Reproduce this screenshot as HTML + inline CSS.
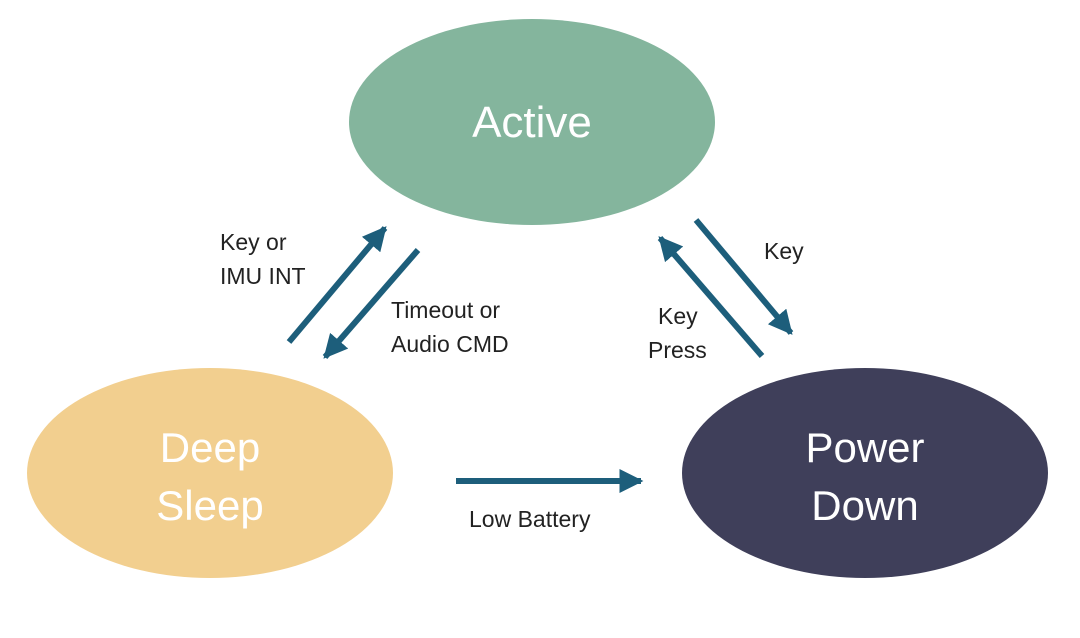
<!DOCTYPE html>
<html><head><meta charset="utf-8"><style>
html,body{margin:0;padding:0;background:#fff;}
svg{display:block;}
text{font-family:"Liberation Sans",sans-serif;}
</style></head><body>
<svg width="1080" height="638" viewBox="0 0 1080 638" xmlns="http://www.w3.org/2000/svg">
<defs>
<marker id="ah" markerWidth="4" markerHeight="4" refX="3.6" refY="2" orient="auto" markerUnits="strokeWidth">
<path d="M0,0 L4,2 L0,4 Z" fill="#1d5e7b"/>
</marker>
</defs>
<rect width="1080" height="638" fill="#fff"/>
<ellipse cx="532" cy="122" rx="183" ry="103" fill="#84b59d"/>
<ellipse cx="210" cy="473" rx="183" ry="105" fill="#f2cf8f"/>
<ellipse cx="865" cy="473" rx="183" ry="105" fill="#3f3f5a"/>
<text x="532" y="137" font-size="44" fill="#fff" text-anchor="middle">Active</text>
<text x="210" y="462" font-size="42" fill="#fff" text-anchor="middle">Deep</text>
<text x="210" y="520" font-size="42" fill="#fff" text-anchor="middle">Sleep</text>
<text x="865" y="462" font-size="42" fill="#fff" text-anchor="middle">Power</text>
<text x="865" y="520" font-size="42" fill="#fff" text-anchor="middle">Down</text>
<g stroke="#1d5e7b" stroke-width="6" marker-end="url(#ah)">
<line x1="289" y1="342" x2="385" y2="228"/>
<line x1="418" y1="250" x2="325" y2="357"/>
<line x1="762" y1="356" x2="660" y2="238"/>
<line x1="696" y1="220" x2="791" y2="333"/>
<line x1="456" y1="481" x2="641" y2="481"/>
</g>
<g font-size="23" fill="#222">
<text x="220" y="250">Key or</text>
<text x="220" y="284">IMU INT</text>
<text x="391" y="318">Timeout or</text>
<text x="391" y="352">Audio CMD</text>
<text x="658" y="324">Key</text>
<text x="648" y="358">Press</text>
<text x="764" y="259">Key</text>
<text x="469" y="527">Low Battery</text>
</g>
</svg>
</body></html>
